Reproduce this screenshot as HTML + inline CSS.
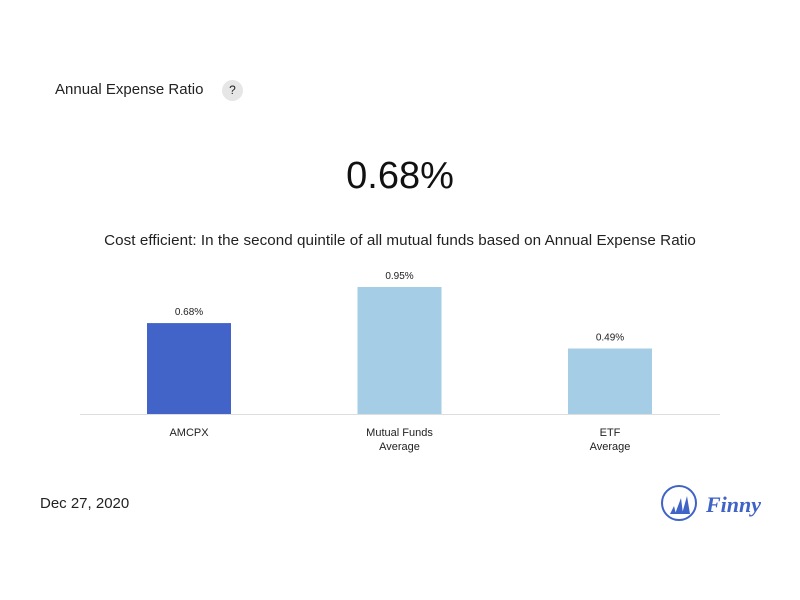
<!DOCTYPE html>
<html><head><meta charset="utf-8"><style>
body{margin:0;width:800px;height:600px;background:#fff;font-family:"Liberation Sans",sans-serif;position:relative;overflow:hidden;color:#222}
.abs{position:absolute}
</style></head><body>
<div class="abs" style="left:55px;top:81px;font-size:15px">Annual Expense Ratio</div>
<div class="abs" style="left:222px;top:80px;width:21px;height:21px;border-radius:50%;background:#e6e6e6;font-size:12px;text-align:center;line-height:21px">?</div>
<div class="abs" style="left:0;width:800px;top:155px;text-align:center;font-size:38px;color:#111">0.68%</div>
<div class="abs" style="left:0;width:800px;top:232px;text-align:center;font-size:15.2px;letter-spacing:0.05px">Cost efficient: In the second quintile of all mutual funds based on Annual Expense Ratio</div>
<svg class="abs" style="left:0;top:0" width="800" height="600" id="chart"></svg>
<div class="abs" style="left:40px;top:495px;font-size:15px">Dec 27, 2020</div>
<svg class="abs" style="left:660px;top:484px" width="105" height="40">
<circle cx="19" cy="19" r="17" fill="none" stroke="#3f63c6" stroke-width="2"/>
<path d="M10 30 L14 22 L16 30Z M15 30 L21 14 L23 30Z M22 30 L27 12 L30 30Z" fill="#3f63c6"/>
<text x="46" y="28" font-family="Liberation Serif,serif" font-style="italic" font-weight="bold" font-size="22" fill="#3f63c6">Finny</text>
</svg>
<script>
const categories=["AMCPX","Mutual Funds|Average","ETF|Average"];
const values=[0.68,0.95,0.49];
const labels=["0.68%","0.95%","0.49%"];
const colors=["#4263c7","#a6cde6","#a6cde6"];
const svg=document.getElementById('chart');
const NS='http://www.w3.org/2000/svg';
const base=414,scale=133.7,x0=80,x1=720;
function xc(i){return 189+i*210.5}
function y(v){return base-v*scale}
const ax=document.createElementNS(NS,'line');


ax.setAttribute('x1',x0);ax.setAttribute('x2',x1);ax.setAttribute('y1',base+0.5);ax.setAttribute('y2',base+0.5);ax.setAttribute('stroke','#ddd');
svg.appendChild(ax);
values.forEach((v,i)=>{
 const r=document.createElementNS(NS,'rect');
 
 
 r.setAttribute('x',xc(i)-42);r.setAttribute('width',84);r.setAttribute('y',y(v));r.setAttribute('height',v*scale);r.setAttribute('fill',colors[i]);
 svg.appendChild(r);
 const t=document.createElementNS(NS,'text');
 
 
 t.setAttribute('x',xc(i));t.setAttribute('y',y(v)-8);t.setAttribute('text-anchor','middle');t.setAttribute('font-size','10');t.setAttribute('fill','#222');
 t.textContent=labels[i];svg.appendChild(t);
 categories[i].split('|').forEach((s,j)=>{
  const c=document.createElementNS(NS,'text');
  
  
  c.setAttribute('x',xc(i));c.setAttribute('y',436+j*14);c.setAttribute('text-anchor','middle');c.setAttribute('font-size','11');c.setAttribute('fill','#222');
  c.textContent=s;svg.appendChild(c);
 });
});
</script>
</body></html>
